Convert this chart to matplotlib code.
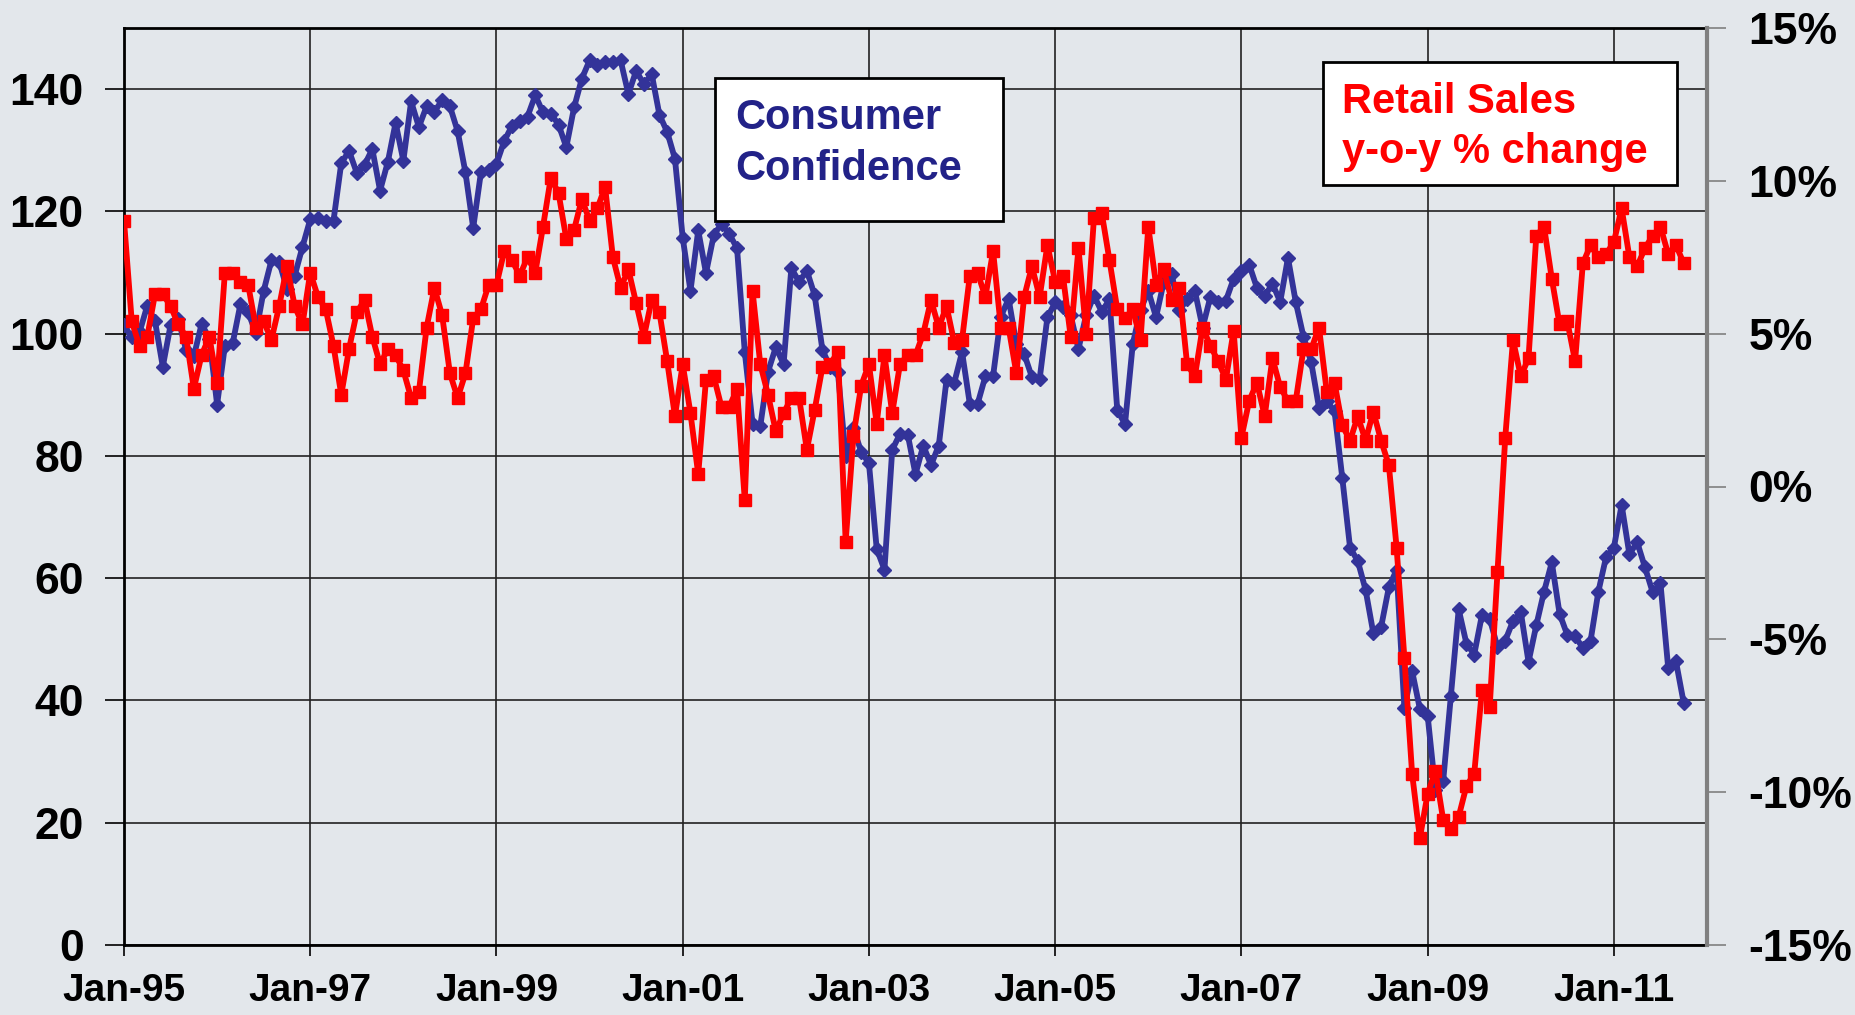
import numpy as np
import pandas as pd
import matplotlib
matplotlib.use('Agg')
import matplotlib.pyplot as plt
from matplotlib.patches import Rectangle

plt.rcParams['font.family'] = ['Liberation Sans', 'DejaVu Sans']
plt.rcParams['font.weight'] = 'bold'

# monthly data, Jan-95 .. Oct-11
months = pd.date_range('1995-01-01', '2011-10-01', freq='MS')

consumer_confidence = [
    101.4, 99.4, 100.2, 104.6, 102.0, 94.6, 101.4, 102.4, 97.3, 96.3, 101.6, 99.2,      # 1995
    88.4, 98.0, 98.4, 104.8, 103.5, 100.1, 107.0, 112.0, 111.8, 107.3, 109.5, 114.2,    # 1996
    118.7, 118.9, 118.5, 118.5, 127.9, 129.9, 126.3, 127.6, 130.2, 123.4, 128.1, 134.5, # 1997
    128.3, 138.0, 133.8, 137.2, 136.3, 138.2, 137.2, 133.1, 126.4, 117.3, 126.4, 126.7, # 1998
    127.8, 131.5, 134.0, 134.8, 135.5, 139.0, 136.2, 136.0, 134.2, 130.5, 137.0, 141.7, # 1999
    144.7, 144.0, 144.5, 144.5, 144.7, 139.2, 143.0, 140.8, 142.5, 135.8, 133.0, 128.6, # 2000
    115.7, 107.0, 116.9, 109.9, 116.1, 118.0, 116.3, 114.0, 97.0, 85.3, 84.9, 93.8,     # 2001
    97.8, 95.0, 110.7, 108.5, 110.3, 106.3, 97.4, 94.5, 93.7, 80.0, 84.5, 80.7,         # 2002
    78.8, 64.8, 61.4, 81.0, 83.6, 83.5, 77.0, 81.7, 78.5, 81.7, 92.5, 92.0,             # 2003
    97.0, 88.5, 88.5, 93.0, 93.1, 102.8, 105.7, 98.3, 96.7, 92.9, 92.6, 102.7,          # 2004
    105.1, 104.3, 103.0, 97.5, 103.1, 106.2, 103.6, 105.6, 87.5, 85.2, 98.3, 103.9,     # 2005
    107.0, 102.7, 108.5, 109.8, 103.8, 105.6, 107.0, 101.0, 106.0, 105.2, 105.4, 109.0, # 2006
    110.2, 111.3, 107.5, 106.1, 108.2, 105.2, 112.4, 105.2, 99.5, 95.3, 87.9, 89.0,     # 2007
    87.3, 76.4, 65.0, 62.8, 58.1, 51.0, 52.0, 58.5, 61.4, 38.8, 44.8, 38.6,             # 2008
    37.5, 25.3, 26.8, 40.8, 54.9, 49.3, 47.5, 54.0, 53.4, 48.7, 49.8, 53.0,             # 2009
    54.5, 46.3, 52.3, 57.8, 62.6, 54.2, 50.7, 50.5, 48.6, 49.8, 57.8, 63.5,             # 2010
    65.0, 72.0, 63.9, 65.9, 61.8, 57.7, 59.2, 45.3, 46.4, 39.6,                         # 2011
]

retail_sales_yoy = [
    8.7, 5.4, 4.6, 4.9, 6.3, 6.3, 5.9, 5.3, 4.9, 3.2, 4.3, 4.9,
    3.4, 7.0, 7.0, 6.7, 6.6, 5.2, 5.4, 4.8, 5.9, 7.2, 5.9, 5.3,
    7.0, 6.2, 5.8, 4.6, 3.0, 4.5, 5.7, 6.1, 4.9, 4.0, 4.5, 4.3,
    3.8, 2.9, 3.1, 5.2, 6.5, 5.6, 3.7, 2.9, 3.7, 5.5, 5.8, 6.6,
    6.6, 7.7, 7.4, 6.9, 7.5, 7.0, 8.5, 10.1, 9.6, 8.1, 8.4, 9.4,
    8.7, 9.1, 9.8, 7.5, 6.5, 7.1, 6.0, 4.9, 6.1, 5.7, 4.1, 2.3,
    4.0, 2.4, 0.4, 3.5, 3.6, 2.6, 2.6, 3.2, -0.45, 6.4, 4.0, 3.0,
    1.8, 2.4, 2.9, 2.9, 1.2, 2.5, 3.9, 4.0, 4.4, -1.8, 1.65, 3.3,
    4.0, 2.05, 4.3, 2.4, 4.0, 4.3, 4.3, 5.0, 6.1, 5.2, 5.9, 4.7,
    4.8, 6.9, 7.0, 6.2, 7.7, 5.2, 5.2, 3.7, 6.2, 7.2, 6.2, 7.9,
    6.7, 6.9, 4.9, 7.8, 5.0, 8.8, 8.95, 7.4, 5.8, 5.5, 5.8, 4.8,
    8.5, 6.6, 7.1, 6.1, 6.5, 4.0, 3.6, 5.2, 4.6, 4.1, 3.5, 5.1,
    1.6, 2.8, 3.4, 2.3, 4.2, 3.25, 2.8, 2.8, 4.5, 4.5, 5.2, 3.1,
    3.4, 2.0, 1.5, 2.3, 1.5, 2.45, 1.5, 0.7, -2.0, -5.6, -9.4, -11.5,
    -10.05, -9.3, -10.9, -11.2, -10.8, -9.8, -9.4, -6.65, -7.2, -2.8, 1.6, 4.8,
    3.6, 4.2, 8.2, 8.5, 6.8, 5.3, 5.4, 4.1, 7.3, 7.9, 7.5, 7.6,
    8.0, 9.1, 7.5, 7.2, 7.8, 8.2, 8.5, 7.6, 7.9, 7.3,
]

tick_months = months[::24]
tick_labels = [m.strftime('%b-%y') for m in tick_months]
left_ticks = [0, 20, 40, 60, 80, 100, 120, 140]
right_ticks = [-15, -10, -5, 0, 5, 10, 15]
right_labels = ['%d%%' % v for v in right_ticks]

bg = '#E3E7EB'
blue = '#333399'
red = '#FF0000'

W, H = 1856, 1015
fig = plt.figure(figsize=(W / 100, H / 100), dpi=100, facecolor=bg)
ax = fig.add_axes([124 / W, 1 - 945 / H, (1707 - 124) / W, (945 - 28) / H])
ax.set_facecolor(bg)

x = np.arange(len(months))
ax.plot(x, consumer_confidence, color=blue, lw=4.2, marker='D', ms=7.5,
        mec=blue, mfc=blue, zorder=3)
ax.set_xlim(0, 204)
ax.set_ylim(0, 150)
ax.set_yticks(left_ticks)
ax.set_xticks(x[::24])
ax.set_xticklabels(tick_labels)
ax.grid(True, color='#222222', lw=1.2)
ax.set_axisbelow(True)
ax.tick_params(axis='y', length=14, width=1.2, pad=15, labelsize=32)
ax.tick_params(axis='x', length=8, width=1.2, pad=12, labelsize=28)
for s in ['left', 'bottom', 'top']:
    ax.spines[s].set_linewidth(2)
    ax.spines[s].set_color('black')

ax2 = ax.twinx()
ax2.plot(x, retail_sales_yoy, color=red, lw=4.2, marker='s', ms=8,
         mec=red, mfc=red)
ax2.set_ylim(-15, 15)
ax2.set_yticks(right_ticks)
ax2.set_yticklabels(right_labels)
ax2.tick_params(axis='y', length=14, width=1.2, color='#808080', pad=16, labelsize=32)
ax2.spines['right'].set_color('#808080')
ax2.spines['right'].set_linewidth(3)
for s in ['left', 'bottom', 'top']:
    ax2.spines[s].set_visible(False)

# label boxes
fig.add_artist(Rectangle((715 / W, 1 - 221 / H), (1003 - 715) / W, (221 - 78) / H,
                         transform=fig.transFigure, fc='white', ec='black', lw=2, zorder=10))
fig.text(735 / W, 1 - 129 / H, 'Consumer', color='#222288', fontsize=30,
         fontweight='bold', va='baseline', zorder=11)
fig.text(735 / W, 1 - 180 / H, 'Confidence', color='#222288', fontsize=30,
         fontweight='bold', va='baseline', zorder=11)

fig.add_artist(Rectangle((1323 / W, 1 - 185 / H), (1677 - 1323) / W, (185 - 62) / H,
                         transform=fig.transFigure, fc='white', ec='black', lw=2, zorder=10))
fig.text(1342 / W, 1 - 113 / H, 'Retail Sales', color=red, fontsize=30,
         fontweight='bold', va='baseline', zorder=11)
fig.text(1342 / W, 1 - 163 / H, 'y-o-y % change', color=red, fontsize=30,
         fontweight='bold', va='baseline', zorder=11)

fig.savefig('out.png', dpi=100, facecolor=bg)
